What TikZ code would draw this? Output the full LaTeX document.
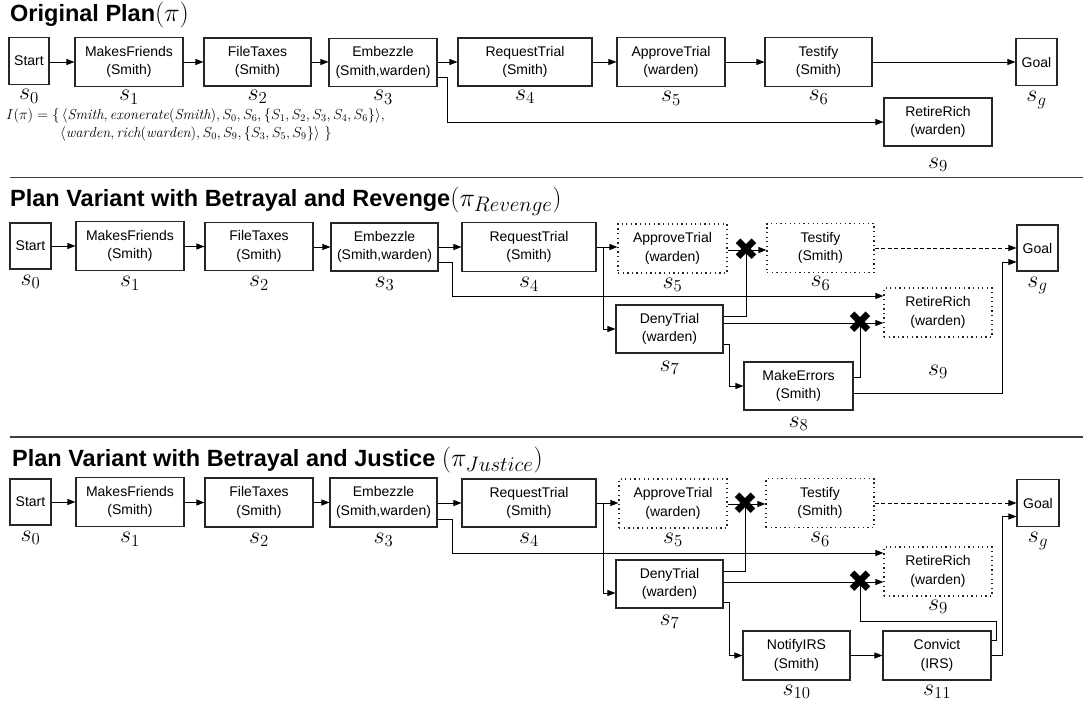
\RequirePackage{fix-cm}
\documentclass[tikz,border=0pt]{standalone}
\usepackage{fontspec}
\setsansfont{Liberation Sans}
\newfontfamily\mysymfont{DejaVu Sans}
\usetikzlibrary{arrows.meta}
\newcommand{\myboxfont}{\sffamily\fontsize{14}{18.5}\selectfont}
\newcommand{\mytitfont}{\sffamily\bfseries\fontsize{23.5}{28}\selectfont}
\newcommand{\mytitmath}{\fontsize{26}{28}\selectfont}
\newcommand{\mysubmath}[1]{\hbox{\fontsize{21}{21}\selectfont$#1$}}
\newcommand{\mylabfont}{\fontsize{24}{26}\selectfont}
\newcommand{\mycrossfont}{\mysymfont\fontsize{31}{31}\selectfont}
\newcommand{\myformfont}{\fontsize{14.5}{17}\selectfont}
\tikzset{
  box/.style={draw=black!85, line width=1.1pt, minimum height=48pt, inner sep=0pt, align=center, font=\myboxfont},
  dbox/.style={box, dash pattern=on 1.3pt off 3.3pt, line width=1.2pt},
  arr/.style={-{Triangle[length=8pt,width=6pt]}, line width=0.9pt},
  conn/.style={line width=0.9pt},
  dashedarr/.style={arr, dash pattern=on 4pt off 2.5pt},
  lab/.style={anchor=north, inner sep=0pt, font=\mylabfont},
  cross/.style={inner sep=0pt, font=\mycrossfont},
  sepline/.style={line width=1.3pt, black!75},
  tit/.style={anchor=base west, inner sep=0pt},
}
\begin{document}
\begin{tikzpicture}[x=1pt,y=-1pt]
\useasboundingbox (0,0) rectangle (1091,706);

% ================= Section 1 =================
\node[tit] (t1) at (10,22) {\mytitfont Original Plan\mytitmath$(\pi)$};

\node[box, minimum width=40pt, minimum height=47pt] (st1) at (29,61) {Start};
\node[box, minimum width=108pt, minimum height=49pt] (mf1) at (129,62) {MakesFriends\\(Smith)};
\node[box, minimum width=107pt] (ft1) at (257.5,62) {FileTaxes\\(Smith)};
\node[box, minimum width=108pt] (em1) at (383,62.5) {Embezzle\\(Smith,warden)};
\node[box, minimum width=134pt] (rt1) at (525,62) {RequestTrial\\(Smith)};
\node[box, minimum width=108pt, minimum height=49pt] (at1) at (671,62) {ApproveTrial\\(warden)};
\node[box, minimum width=107pt, minimum height=49pt] (te1) at (818.5,62) {Testify\\(Smith)};
\node[box, minimum width=41pt, minimum height=47pt] (go1) at (1036.5,62) {Goal};
\node[box, minimum width=108pt] (rr1) at (938,122) {RetireRich\\(warden)};

\node[lab] (l1a) at ([yshift=-4pt]st1.south) {$s_0$};
\node[lab] (l1b) at ([yshift=-3pt]mf1.south) {$s_1$};
\node[lab] (l1c) at ([yshift=-3pt]ft1.south) {$s_2$};
\node[lab] (l1d) at ([yshift=-3pt]em1.south) {$s_3$};
\node[lab] (l1e) at ([yshift=-3pt]rt1.south) {$s_4$};
\node[lab] (l1f) at ([yshift=-4pt]at1.south) {$s_5$};
\node[lab] (l1g) at ([yshift=-3pt]te1.south) {$s_6$};
\node[lab] (l1h) at ([yshift=-5pt]go1.south) {$s_g$};
\node[lab] (l1i) at ([yshift=-11pt]rr1.south) {$s_9$};

\draw[arr] (st1.east |- mf1.west) -- (mf1.west);
\draw[arr] (mf1.east) -- (ft1.west);
\draw[arr] (ft1.east) -- (ft1.east -| em1.west);
\draw[arr] (em1.east |- rt1.west) -- (rt1.west);
\draw[arr] (rt1.east) -- (at1.west);
\draw[arr] (at1.east) -- (te1.west);
\draw[arr] (te1.east) -- (go1.west);
\draw[arr] ([yshift=-15pt]em1.east) -- ++(10,0) |- (rr1.west);

\node[anchor=base west, inner sep=0pt, font=\myformfont] (f1) at (6,119)
  {$I(\pi) = \{\,\langle \mathit{Smith}, \mathit{exonerate}(\mathit{Smith}), S_0, S_6, \{S_1, S_2, S_3, S_4, S_6\}\rangle,$};
\node[anchor=base west, inner sep=0pt, font=\myformfont] (f2) at (60,137)
  {$\langle \mathit{warden}, \mathit{rich}(\mathit{warden}), S_0, S_9, \{S_3, S_5, S_9\}\rangle\ \}$};

\draw[sepline] (10,177.5) -- (1083,177.5);

% ================= Section 2 =================
\node[tit] (t2) at (10,206) {\mytitfont Plan Variant with Betrayal and Revenge\mytitmath$(\pi_{\mysubmath{Revenge}})$};

\node[box, minimum width=41pt, minimum height=46pt] (st2) at (30.5,246) {Start};
\node[box, minimum width=108pt, minimum height=49pt] (mf2) at (130,246) {MakesFriends\\(Smith)};
\node[box, minimum width=108pt] (ft2) at (259,246.5) {FileTaxes\\(Smith)};
\node[box, minimum width=107pt] (em2) at (384.5,247) {Embezzle\\(Smith,warden)};
\node[box, minimum width=134pt, minimum height=49pt] (rt2) at (529,247) {RequestTrial\\(Smith)};
\node[dbox, minimum width=109pt, minimum height=49pt] (at2) at (672.5,248.5) {ApproveTrial\\(warden)};
\node[dbox, minimum width=107pt, minimum height=49pt] (te2) at (820.5,248) {Testify\\(Smith)};
\node[box, minimum width=41pt, minimum height=46pt] (go2) at (1037.5,248) {Goal};
\node[dbox, minimum width=108pt, minimum height=49pt] (rr2) at (938,312.5) {RetireRich\\(warden)};
\node[box, minimum width=107pt] (dt2) at (669.5,329) {DenyTrial\\(warden)};
\node[box, minimum width=109pt] (me2) at (798.5,386) {MakeErrors\\(Smith)};

\node[lab] (l2a) at ([yshift=-5pt]st2.south) {$s_0$};
\node[lab] (l2b) at ([yshift=-5pt]mf2.south) {$s_1$};
\node[lab] (l2c) at ([yshift=-5pt]ft2.south) {$s_2$};
\node[lab] (l2d) at ([yshift=-5pt]em2.south) {$s_3$};
\node[lab] (l2e) at ([yshift=-5pt]rt2.south) {$s_4$};
\node[lab] (l2f) at ([yshift=-4pt]at2.south) {$s_5$};
\node[lab] (l2g) at ([yshift=-3pt]te2.south) {$s_6$};
\node[lab] (l2h) at ([yshift=-5pt]go2.south) {$s_g$};
\node[lab] (l2i) at ([yshift=-27pt]rr2.south) {$s_9$};
\node[lab] (l2j) at ([yshift=-7pt]dt2.south) {$s_7$};
\node[lab] (l2k) at ([yshift=-6pt]me2.south) {$s_8$};

\coordinate (c1) at (746,250);
\coordinate (c2) at (860,323);

\draw[arr] (st2.east |- mf2.west) -- (mf2.west);
\draw[arr] (mf2.east |- ft2.west) -- (ft2.west);
\draw[arr] (ft2.east |- em2.west) -- (em2.west);
\draw[arr] (em2.east) -- (em2.east -| rt2.west);
\draw[arr] ([yshift=-15pt]em2.east) -- ++(14,0) |- ([yshift=16.5pt]rr2.west);
\draw[arr] (rt2.east) -- (rt2.east -| at2.west);
\draw[arr] ([xshift=7pt]rt2.east) |- (dt2.west);
\draw[arr] (at2.east |- c1) -- (te2.west |- c1);
\draw[conn] ([yshift=13pt]dt2.east) -| (c1);
\draw[arr] (dt2.east |- c2) -- (rr2.west |- c2);
\draw[arr] ([yshift=-15pt]dt2.east) -- ++(6,0) |- (me2.west);
\draw[conn] ([yshift=9pt]me2.east) -| (c2);
\draw[arr] ([yshift=-7pt]me2.east) -| ([xshift=-14pt,yshift=-14pt]go2.west) -- ([yshift=-14pt]go2.west);
\draw[dashedarr] (te2.east) -- (go2.west);

\node[cross] (x1) at (c1) {✖};
\node[cross] (x2) at (c2) {✖};

\draw[sepline] (10,437) -- (1083,437);

% ================= Section 3 =================
\node[tit] (t3) at (12,466) {\mytitfont Plan Variant with Betrayal and Justice \mytitmath$(\pi_{\mysubmath{Justice}})$};

\node[box, minimum width=41pt, minimum height=46pt] (st3) at (30.5,502) {Start};
\node[box, minimum width=108pt, minimum height=49pt] (mf3) at (130,502) {MakesFriends\\(Smith)};
\node[box, minimum width=108pt, minimum height=49pt] (ft3) at (259,502.5) {FileTaxes\\(Smith)};
\node[box, minimum width=107pt, minimum height=49pt] (em3) at (383.5,502.5) {Embezzle\\(Smith,warden)};
\node[box, minimum width=134pt] (rt3) at (529,503) {RequestTrial\\(Smith)};
\node[dbox, minimum width=108pt, minimum height=49pt] (at3) at (673,503.5) {ApproveTrial\\(warden)};
\node[dbox, minimum width=108pt, minimum height=49pt] (te3) at (820,503) {Testify\\(Smith)};
\node[box, minimum width=42pt, minimum height=47pt] (go3) at (1038,503) {Goal};
\node[dbox, minimum width=108pt, minimum height=49pt] (rr3) at (938,571.5) {RetireRich\\(warden)};
\node[box, minimum width=107pt] (dt3) at (669.5,584) {DenyTrial\\(warden)};
\node[box, minimum width=107pt, minimum height=49pt] (ni3) at (796.5,655.5) {NotifyIRS\\(Smith)};
\node[box, minimum width=108pt, minimum height=49pt] (cv3) at (937,655.5) {Convict\\(IRS)};

\node[lab] (l3a) at ([yshift=-5pt]st3.south) {$s_0$};
\node[lab] (l3b) at ([yshift=-5pt]mf3.south) {$s_1$};
\node[lab] (l3c) at ([yshift=-5pt]ft3.south) {$s_2$};
\node[lab] (l3d) at ([yshift=-5pt]em3.south) {$s_3$};
\node[lab] (l3e) at ([yshift=-5pt]rt3.south) {$s_4$};
\node[lab] (l3f) at ([yshift=-4pt]at3.south) {$s_5$};
\node[lab] (l3g) at ([yshift=-4pt]te3.south) {$s_6$};
\node[lab] (l3h) at ([yshift=-5pt]go3.south) {$s_g$};
\node[lab] (l3i) at ([yshift=-3pt]rr3.south) {$s_9$};
\node[lab] (l3j) at ([yshift=-6pt]dt3.south) {$s_7$};
\node[lab] (l3k) at ([yshift=-4pt]ni3.south) {$s_{10}$};
\node[lab] (l3l) at ([yshift=-4pt]cv3.south) {$s_{11}$};

\coordinate (c3) at (745,504);
\coordinate (c4) at (860,582);

\draw[arr] (st3.east |- mf3.west) -- (mf3.west);
\draw[arr] (mf3.east |- ft3.west) -- (ft3.west);
\draw[arr] (ft3.east) -- (em3.west);
\draw[arr] (em3.east |- rt3.west) -- (rt3.west);
\draw[arr] ([yshift=-17pt]em3.east) -- ++(15,0) |- ([yshift=18.5pt]rr3.west);
\draw[arr] (rt3.east) -- (rt3.east -| at3.west);
\draw[arr] ([xshift=7pt]rt3.east) |- ([yshift=-9pt]dt3.west);
\draw[arr] (at3.east |- c3) -- (te3.west |- c3);
\draw[conn] ([yshift=13pt]dt3.east) -| (c3);
\draw[arr] (dt3.east |- c4) -- (rr3.west |- c4);
\draw[arr] ([yshift=-18pt]dt3.east) -- ++(6,0) |- (ni3.west);
\draw[arr] (ni3.east) -- (cv3.west);
\draw[conn] ([yshift=15.5pt]cv3.east) -- ++(5,0) -- ++(0,-19) -| (c4);
\draw[arr] (cv3.east) -| ([xshift=-14pt,yshift=-13.5pt]go3.west) -- ([yshift=-13.5pt]go3.west);
\draw[dashedarr] (te3.east |- go3.west) -- (go3.west);

\node[cross] (x3) at (c3) {✖};
\node[cross] (x4) at (c4) {✖};
\end{tikzpicture}
\end{document}
